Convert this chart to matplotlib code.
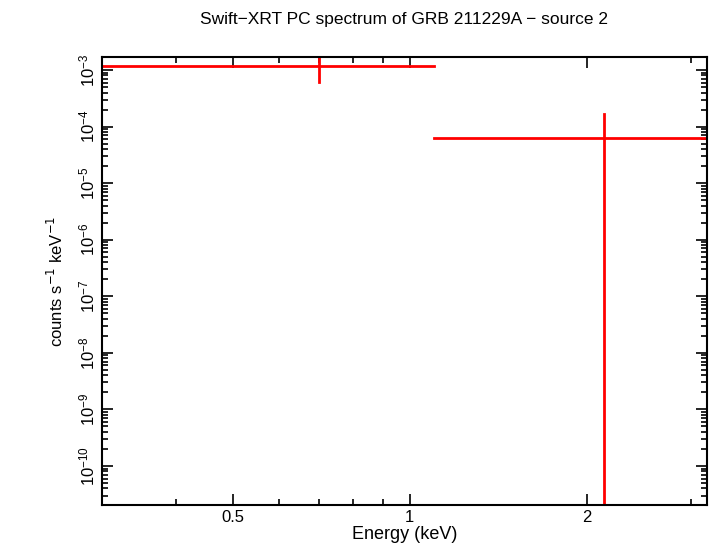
import matplotlib
matplotlib.use("Agg")
import matplotlib.pyplot as plt
from matplotlib.ticker import LogLocator, FixedLocator, NullFormatter

plt.rcParams["font.family"] = "Liberation Sans"

# spectrum bins: energy centre, energy half-widths, rate, rate errors
energy = [0.70, 2.14]
energy_lo = [0.30, 1.10]
energy_hi = [1.10, 3.4]
rate = [1.2e-3, 6.4e-5]
rate_lo = [6.1e-4, 1e-12]
rate_hi = [1.7e-3, 1.7e-4]

fig = plt.figure(figsize=(7.1, 5.56), dpi=100)
ax = fig.add_axes([102 / 710, 51 / 556, 605 / 710, 448 / 556])

for e, elo, ehi, r, rlo, rhi in zip(energy, energy_lo, energy_hi, rate, rate_lo, rate_hi):
    ax.plot([elo, ehi], [r, r], color="red", lw=2, clip_on=True)
    ax.plot([e, e], [rlo, rhi], color="red", lw=2, clip_on=True)

ax.set_xscale("log")
ax.set_yscale("log")
ax.set_xlim(0.30, 3.2)
ax.set_ylim(10 ** -10.69, 10 ** -2.77)

ax.xaxis.set_major_locator(FixedLocator([0.5, 1, 2]))
ax.set_xticklabels(["0.5", "1", "2"])
ax.xaxis.set_minor_locator(FixedLocator([0.3, 0.4, 0.6, 0.7, 0.8, 0.9, 3]))
ax.xaxis.set_minor_formatter(NullFormatter())
ax.yaxis.set_major_locator(FixedLocator([10.0 ** k for k in range(-10, -2)]))
ax.yaxis.set_minor_locator(LogLocator(base=10, subs=range(2, 10), numticks=50))
ax.yaxis.set_minor_formatter(NullFormatter())

ax.tick_params(which="both", direction="in", top=True, right=True, width=1.2)
ax.tick_params(which="major", length=8, labelsize=12)
ax.tick_params(which="minor", length=4)
for lab in ax.get_yticklabels():
    lab.set_rotation(90)
    lab.set_va("center")
for s in ax.spines.values():
    s.set_linewidth(1.5)

ax.set_xlabel("Energy (keV)", fontsize=13, labelpad=1)
ax.set_ylabel("counts s$^{-1}$ keV$^{-1}$", fontsize=12, labelpad=8)
ax.set_title("Swift\u2212XRT PC spectrum of GRB 211229A \u2212 source 2", fontsize=12.5, pad=24)

fig.savefig("out.png", dpi=100)
